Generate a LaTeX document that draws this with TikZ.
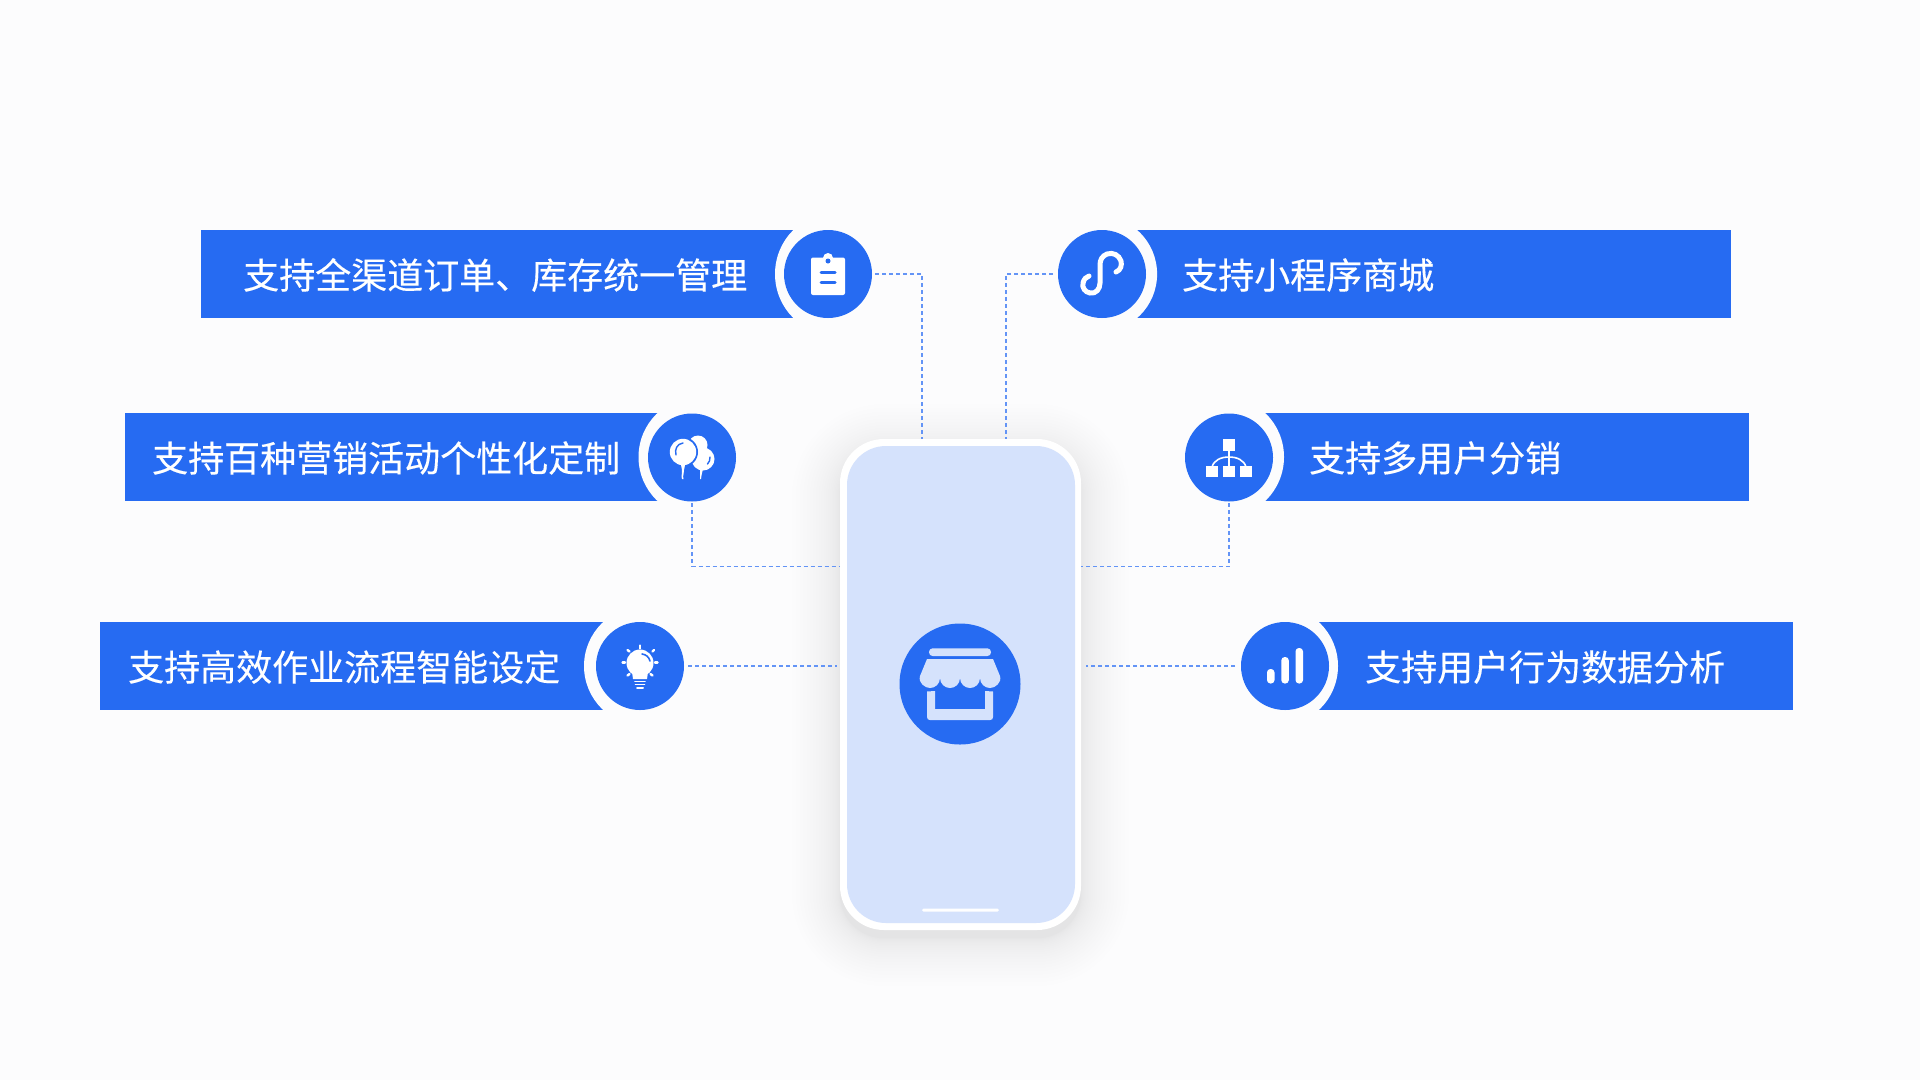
\documentclass[tikz,border=0pt]{standalone}
\usepackage{fontspec}
\newfontfamily\cjk[FakeBold=0.25]{Noto Sans CJK SC}
\definecolor{bgc}{HTML}{FCFCFD}
\definecolor{brand}{HTML}{266BF2}
\definecolor{pale}{HTML}{D5E2FC}
\tikzset{
  barbox/.style={fill=brand,inner sep=0pt,outer sep=0pt,minimum height=88pt},
  ringdisc/.style={circle,fill=bgc,inner sep=0pt,outer sep=0pt},
  disc/.style={circle,fill=brand,inner sep=0pt,outer sep=0pt,minimum size=88pt},
  lbl/.style={anchor=west,text=white,inner sep=0pt,font=\cjk\fontsize{36}{36}\selectfont},
  conn/.style={brand!72!white,line width=1.1pt,dash pattern=on 4pt off 3pt},
  glyph/.style={fill=white,draw=none},
  cut/.style={draw=brand,line cap=round,fill=none},
  white stroke/.style={draw=white,line cap=round,fill=none},
}
\begin{document}
\begin{tikzpicture}[x=1pt,y=-1pt]
\useasboundingbox (0,0) rectangle (1920,1080);
\fill[bgc] (0,0) rectangle (1920,1080);

% phone shadow: layers packed closer near the body so it fades out softly
\foreach \i in {1,...,24}{
  \pgfmathsetmacro{\s}{48*(\i/24)*(\i/24)}
  \pgfmathsetmacro{\rr}{44+\s}
  \fill[black,opacity=0.0045,rounded corners=\rr pt] (840-\s,452-\s) rectangle (1081+\s,938+\s);
}

% bars
\node[barbox,minimum width=660pt] (b1) at (531,274) {};
\node[barbox,minimum width=590pt] (b2) at (420,457) {};
\node[barbox,minimum width=560pt] (b3) at (380,666) {};
\node[barbox,minimum width=640pt] (b4) at (1411,274) {};
\node[barbox,minimum width=540pt] (b5) at (1479,457) {};
\node[barbox,minimum width=530pt] (b6) at (1528,666) {};

% rings
\node[ringdisc,minimum size=124pt] (r1) at (837,274) {};
\node[ringdisc,minimum size=121pt] (r2) at (699,457) {};
\node[ringdisc,minimum size=120pt] (r3) at (644,666) {};
\node[ringdisc,minimum size=117pt] (r4) at (1098.6,274) {};
\node[ringdisc,minimum size=122pt] (r5) at (1223,457) {};
\node[ringdisc,minimum size=120pt] (r6) at (1278,666) {};

% discs
\node[disc] (c1) at (828,274) {};
\node[disc] (c2) at (692,457.5) {};
\node[disc] (c3) at (640,666) {};
\node[disc] (c4) at (1102,274) {};
\node[disc] (c5) at (1229,457.5) {};
\node[disc] (c6) at (1285,666) {};

% labels
\node[lbl] (t1) at (243,275) {支持全渠道订单、库存统一管理};
\node[lbl] (t2) at (152,458) {支持百种营销活动个性化定制};
\node[lbl] (t3) at (128,667) {支持高效作业流程智能设定};
\node[lbl] (t4) at (1182,275) {支持小程序商城};
\node[lbl] (t5) at (1309,458) {支持多用户分销};
\node[lbl] (t6) at (1365,667) {支持用户行为数据分析};

% phone
\node[fill=white,rounded corners=44pt,inner sep=0pt,outer sep=0pt,minimum width=241pt,minimum height=491pt] (phone) at (960.5,684.5) {};
\node[fill=pale,rounded corners=39pt,inner sep=0pt,outer sep=0pt,minimum width=228pt,minimum height=477pt] (screen) at (961,684.5) {};
\node[fill=white,rounded corners=1.5pt,inner sep=0pt,minimum width=77pt,minimum height=3pt] (home) at (960.5,910) {};
\node[circle,fill=brand,inner sep=0pt,minimum size=121pt] (hub) at (960,684) {};

% connector ends
\coordinate (p1) at (922,439);
\coordinate (p4) at (1006,439);
\coordinate (p2) at (840,566.5);
\coordinate (p5) at (1081,566.5);
\coordinate (p3) at (837,666);
\coordinate (p6) at (1086,666);
\coordinate (s1) at (875,274);
\coordinate (s4) at (1053,274);
\coordinate (s3) at (688,666);
\coordinate (s6) at (1235,666);
\coordinate (s2) at (692,503);
\coordinate (s5) at (1229,503);

\draw[conn] (s1) -| (p1);
\draw[conn] (s4) -| (p4);
\draw[conn] (s2) |- (p2);
\draw[conn] (s5) |- (p5);
\draw[conn] (s3) -- (p3);
\draw[conn] (s6) -- (p6);

% store icon
\fill[pale,rounded corners=3.6pt] (929,648.3) rectangle (991,656);
\fill[pale] (927,659) -- (993,659) -- (1000,676)
  .. controls (1002,683) and (995,688) .. (990,688)
  .. controls (985,688) and (980,684) .. (980,678)
  .. controls (980,684) and (975,688) .. (970,688)
  .. controls (965,688) and (960,684) .. (960,678)
  .. controls (960,684) and (955,688) .. (950,688)
  .. controls (945,688) and (940,684) .. (940,678)
  .. controls (940,684) and (935,688) .. (930,688)
  .. controls (925,688) and (918,683) .. (920,676) -- cycle;
\fill[pale] (927,691.5) -- (935,691) -- (935,709) -- (985,709) -- (985,691) -- (993,691.5)
  -- (993,717) .. controls (993,719) and (992,720) .. (990,720) -- (930,720)
  .. controls (928,720) and (927,719) .. (927,717) -- cycle;

% clipboard icon
\fill[glyph,rounded corners=2pt] (811,257.5) rectangle (845,295);
\fill[glyph] (828,258) circle (5);
\fill[brand] (828,261) circle (2.5);
\draw[cut,line width=3pt] (821,272.5) -- (835,272.5);
\draw[cut,line width=3pt] (821,282) -- (835,282);

% mini-program link icon
\draw[white stroke,line width=5pt]
  (1116,272) .. controls (1121,270) and (1122,265) .. (1121,261)
  .. controls (1119,255) and (1113,252) .. (1107,254)
  .. controls (1102,256) and (1100,260) .. (1100,265)
  -- (1100,283)
  .. controls (1100,289) and (1096,294) .. (1090,293)
  .. controls (1085,292) and (1082,288) .. (1083,283)
  .. controls (1084,279) and (1086,277) .. (1089,276);

% balloons icon
\fill[glyph] (698,445) circle (9.5);
\fill[glyph] (703,459) circle (11.5);
\fill[glyph] (700,469) -- (703,469) -- (702,473) .. controls (703,475) and (700,476) .. (701,479) -- (700,479) .. controls (699,476) and (701,475) .. (700,473) -- cycle;
\fill[brand] (683,452) circle (15);
\fill[glyph] (683,452) circle (13.2);
\fill[glyph] (681,465) -- (685,465) -- (684,470) .. controls (685,473) and (682,475) .. (683.5,479) -- (682,479) .. controls (680.5,475) and (683,473) .. (682,470) -- cycle;
\draw[cut,line width=1.4pt] (676,455) .. controls (674.5,449) and (677,444) .. (683,443);
\draw[cut,line width=1.4pt] (707.5,464) .. controls (709.5,462) and (710,460) .. (710,457);

% bulb icon
\fill[glyph] (640,663) circle (13.5);
\fill[glyph] (632,672) -- (648,672) -- (647,679) -- (633,679) -- cycle;
\draw[cut,line width=1.6pt] (642,654) .. controls (646,654.5) and (649,657) .. (650,661);
\draw[white stroke,line width=1.6pt] (635,681.5) -- (645,681.5);
\draw[white stroke,line width=1.6pt] (635.5,684.5) -- (644.5,684.5);
\draw[white stroke,line width=2pt] (637,687.5) -- (643,687.5);
\draw[white stroke,line width=2.4pt] (640,645.5) -- (640,648.5);
\draw[white stroke,line width=2.4pt] (627.5,650) -- (629.5,651.5);
\draw[white stroke,line width=2.4pt] (652.5,651.5) -- (654,650);
\draw[white stroke,line width=2.4pt] (622.5,662.5) -- (625,662.5);
\draw[white stroke,line width=2.4pt] (655,662.5) -- (657.5,662.5);
\draw[white stroke,line width=2.4pt] (627.5,675.5) -- (629.5,674);
\draw[white stroke,line width=2.4pt] (650.5,674) -- (652.5,675.5);

% network icon
\draw[white stroke,line width=1.6pt,line cap=butt] (1229,450) -- (1229,466);
\draw[white stroke,line width=1.6pt,line cap=butt] (1212,467) .. controls (1214,460) and (1221,457) .. (1229,457) .. controls (1237,457) and (1244,460) .. (1246,467);
\fill[glyph] (1223,439) rectangle (1235,450.5);
\fill[glyph] (1206,466) rectangle (1218,477);
\fill[glyph] (1223,466) rectangle (1235,477);
\fill[glyph] (1240,466) rectangle (1252,477);

% bar chart icon
\fill[glyph,rounded corners=3.4pt] (1267,669) rectangle (1274.5,683.5);
\fill[glyph,rounded corners=3.4pt] (1281.3,657) rectangle (1288.8,683.5);
\fill[glyph,rounded corners=3.4pt] (1295.5,648) rectangle (1303,683.5);
\end{tikzpicture}
\end{document}
